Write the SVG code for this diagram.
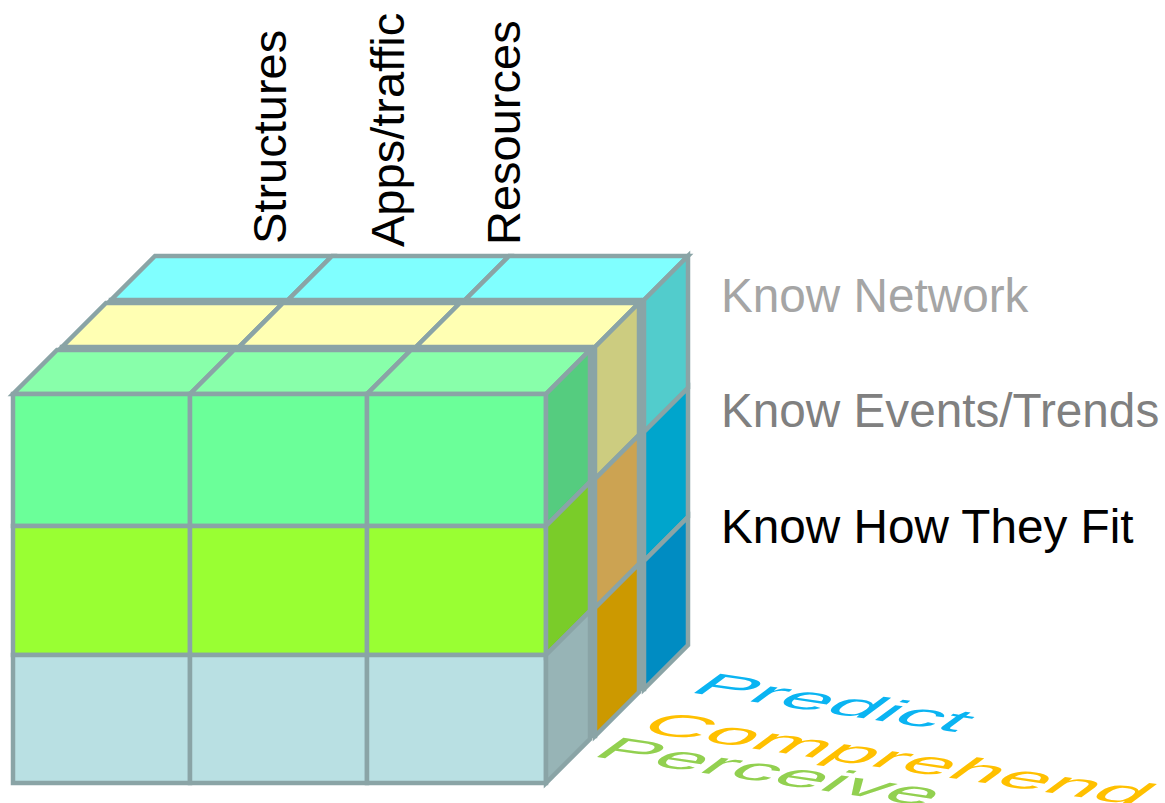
<svg xmlns="http://www.w3.org/2000/svg" width="1165" height="803" viewBox="0 0 1165 803">
  <style>
    .cell { stroke: #8aa4a6; stroke-width: 4.5; stroke-linejoin: miter; }
    .hid { fill: #8aa4a6; stroke: #8aa4a6; stroke-width: 4.5; }
    .lbl { font-family: "Liberation Sans", Arial, sans-serif; font-size: 47px; }
    .row { font-family: "Liberation Sans", Arial, sans-serif; font-size: 47.7px; }
    .floor { font-family: "Liberation Sans", Arial, sans-serif; font-size: 83px; }
  </style>

  <!-- back slice: Predict layer (cyan / blues) -->
  <g id="slice-predict" transform="translate(98,-94)">
    <rect class="hid" x="13" y="394" width="533" height="389"/>
    <polygon class="cell" fill="#80ffff" points="13,394 190,394 234,350 57,350"/>
    <polygon class="cell" fill="#80ffff" points="190,394 367,394 411,350 234,350"/>
    <polygon class="cell" fill="#80ffff" points="367,394 546,394 590,350 411,350"/>
    <polygon class="cell" fill="#52cccc" points="546,394 590,350 590,482 546,526"/>
    <polygon class="cell" fill="#00a5cc" points="546,526 590,482 590,611 546,655"/>
    <polygon class="cell" fill="#008cc2" points="546,655 590,611 590,739 546,783"/>
  </g>

  <!-- middle slice: Comprehend layer (yellows / golds) -->
  <g id="slice-comprehend" transform="translate(49,-47)">
    <rect class="hid" x="13" y="394" width="533" height="389"/>
    <polygon class="cell" fill="#ffffb3" points="13,394 190,394 234,350 57,350"/>
    <polygon class="cell" fill="#ffffb3" points="190,394 367,394 411,350 234,350"/>
    <polygon class="cell" fill="#ffffb3" points="367,394 546,394 590,350 411,350"/>
    <polygon class="cell" fill="#cccc80" points="546,394 590,350 590,482 546,526"/>
    <polygon class="cell" fill="#cca352" points="546,526 590,482 590,611 546,655"/>
    <polygon class="cell" fill="#cc9900" points="546,655 590,611 590,739 546,783"/>
  </g>

  <!-- front slice: Perceive layer -->
  <g id="slice-perceive">
    <polygon class="cell" fill="#88ffaa" points="13,394 190,394 234,350 57,350"/>
    <polygon class="cell" fill="#88ffaa" points="190,394 367,394 411,350 234,350"/>
    <polygon class="cell" fill="#88ffaa" points="367,394 546,394 590,350 411,350"/>
    <rect class="cell" fill="#6bff99" x="13" y="394" width="177" height="132"/>
    <rect class="cell" fill="#6bff99" x="190" y="394" width="177" height="132"/>
    <rect class="cell" fill="#6bff99" x="367" y="394" width="179" height="132"/>
    <rect class="cell" fill="#99ff33" x="13" y="526" width="177" height="129"/>
    <rect class="cell" fill="#99ff33" x="190" y="526" width="177" height="129"/>
    <rect class="cell" fill="#99ff33" x="367" y="526" width="179" height="129"/>
    <rect class="cell" fill="#b9e0e3" x="13" y="655" width="177" height="128"/>
    <rect class="cell" fill="#b9e0e3" x="190" y="655" width="177" height="128"/>
    <rect class="cell" fill="#b9e0e3" x="367" y="655" width="179" height="128"/>
    <polygon class="cell" fill="#55cc7f" points="546,394 590,350 590,482 546,526"/>
    <polygon class="cell" fill="#7acc29" points="546,526 590,482 590,611 546,655"/>
    <polygon class="cell" fill="#97b4b6" points="546,655 590,611 590,739 546,783"/>
  </g>

  <!-- column headings -->
  <g id="col-structures"><text class="lbl" fill="#000" transform="translate(286,244) rotate(-90)">Structures</text></g>
  <g id="col-apps"><text class="lbl" fill="#000" transform="translate(404,247) rotate(-90)">Apps/traffic</text></g>
  <g id="col-resources"><text class="lbl" fill="#000" transform="translate(520,245) rotate(-90)">Resources</text></g>

  <!-- row headings -->
  <g id="row-network"><text class="row" fill="#a5a5a5" x="721" y="312">Know Network</text></g>
  <g id="row-events"><text class="row" fill="#808080" x="721" y="427">Know Events/Trends</text></g>
  <g id="row-fit"><text class="row" fill="#000000" x="721" y="543">Know How They Fit</text></g>

  <!-- depth labels lying on the floor -->
  <g id="depth-predict"><text class="floor" fill="#0ab4f2" transform="matrix(1.04 0.155 -0.46 0.34 687 692)">Predict</text></g>
  <g id="depth-comprehend"><text class="floor" fill="#ffc000" transform="matrix(1.04 0.155 -0.46 0.34 636 731)">Comprehend</text></g>
  <g id="depth-perceive"><text class="floor" fill="#92d050" transform="matrix(1.04 0.155 -0.46 0.34 590 756)">Perceive</text></g>
</svg>
